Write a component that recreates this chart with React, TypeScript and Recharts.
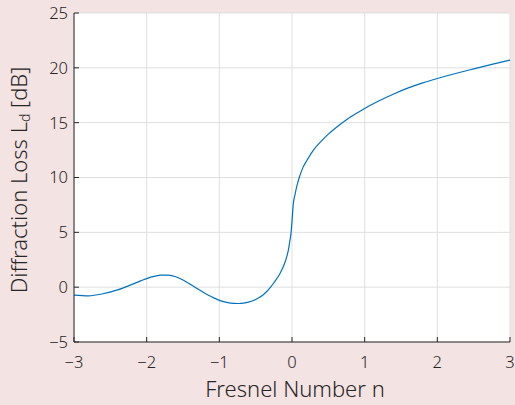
import React from 'react';
import { LineChart, Line, XAxis, YAxis, CartesianGrid } from 'recharts';

const fresnelNumber = [
  -3.0, -2.8, -2.6, -2.4, -2.2, -2.0, -1.9, -1.8, -1.7, -1.6, -1.5, -1.4, -1.3, -1.2, -1.1,
  -1.0, -0.9, -0.8, -0.74, -0.7, -0.6, -0.5, -0.44, -0.4, -0.35, -0.3, -0.25, -0.165, -0.1,
  -0.073, -0.05, -0.028, -0.014, 0, 0.018, 0.04, 0.07, 0.1, 0.15, 0.2, 0.3, 0.4, 0.5, 0.6,
  0.75, 0.9, 1.0, 1.2, 1.4, 1.6, 1.8, 2.0, 2.25, 2.5, 2.75, 3.0,
];
const diffractionLoss = [
  -0.72, -0.79, -0.6, -0.25, 0.25, 0.78, 0.98, 1.1, 1.1, 0.95, 0.65, 0.27, -0.15, -0.55, -0.9,
  -1.2, -1.38, -1.48, -1.49, -1.47, -1.36, -1.12, -0.9, -0.72, -0.42, -0.05, 0.4, 1.25, 2.2,
  2.77, 3.37, 4.28, 4.9, 6.0, 7.6, 8.4, 9.3, 10.0, 10.9, 11.5, 12.55, 13.3, 13.95, 14.52,
  15.27, 15.9, 16.3, 17.0, 17.62, 18.17, 18.63, 19.03, 19.48, 19.9, 20.31, 20.7,
];
const xTicks = [-3, -2, -1, 0, 1, 2, 3];
const yTicks = [-5, 0, 5, 10, 15, 20, 25];

const data = fresnelNumber.map((n, i) => ({ n, loss: diffractionLoss[i] }));

const AXIS = '#262626';
const TEXT = '#262626';
const FONT = "'Noto Sans', sans-serif";
const fmt = (v: number) => String(v).replace('-', '\u2212');

export default function App() {
  return (
    <div style={{ position: 'absolute', left: 0, top: 0, width: 515, height: 405, background: '#f4e3e3' }}>
      <LineChart
        width={515}
        height={405}
        data={data}
        margin={{ top: 13, right: 5, bottom: 0, left: 0 }}
        style={{ fontFamily: FONT }}
      >
        <CartesianGrid stroke="#dfdfdf" fill="#ffffff" fillOpacity={1} />
        <XAxis
          dataKey="n"
          type="number"
          domain={[-3, 3]}
          ticks={xTicks}
          height={63}
          tickSize={-5}
          tickMargin={19}
          tickFormatter={fmt}
          stroke={AXIS}
          tick={{ fill: TEXT, fontSize: 16.5, fontFamily: FONT, fontWeight: 300 }}
          interval={0}
          allowDataOverflow
        />
        <XAxis
          xAxisId="top"
          orientation="top"
          dataKey="n"
          type="number"
          domain={[-3, 3]}
          ticks={xTicks}
          height={0}
          tickSize={-5}
          tick={false}
          stroke={AXIS}
          interval={0}
        />
        <YAxis
          type="number"
          domain={[-5, 25]}
          ticks={yTicks}
          width={74}
          tickSize={-5}
          tickMargin={11}
          tickFormatter={fmt}
          stroke={AXIS}
          tick={{ fill: TEXT, fontSize: 16.5, fontFamily: FONT, fontWeight: 300 }}
          interval={0}
          allowDataOverflow
        />
        <YAxis
          yAxisId="right"
          orientation="right"
          type="number"
          domain={[-5, 25]}
          ticks={yTicks}
          width={0}
          tickSize={-5}
          tick={false}
          stroke={AXIS}
          interval={0}
        />
        <Line
          type="monotone"
          dataKey="loss"
          stroke="#0072bd"
          strokeWidth={1.2}
          dot={false}
          isAnimationActive={false}
        />
        <text
          transform="translate(27,180) rotate(-90)"
          textAnchor="middle"
          fill={TEXT}
          fontSize={22}
          fontWeight={300}
          fontFamily={FONT}
        >
          Diffraction Loss L<tspan fontSize={14} dy={3}>d</tspan>
          <tspan dy={-3}> [dB]</tspan>
        </text>
        <text x={295} y={397} textAnchor="middle" fill={TEXT} fontSize={22} fontWeight={300} fontFamily={FONT}>
          Fresnel Number n
        </text>
      </LineChart>
    </div>
  );
}
